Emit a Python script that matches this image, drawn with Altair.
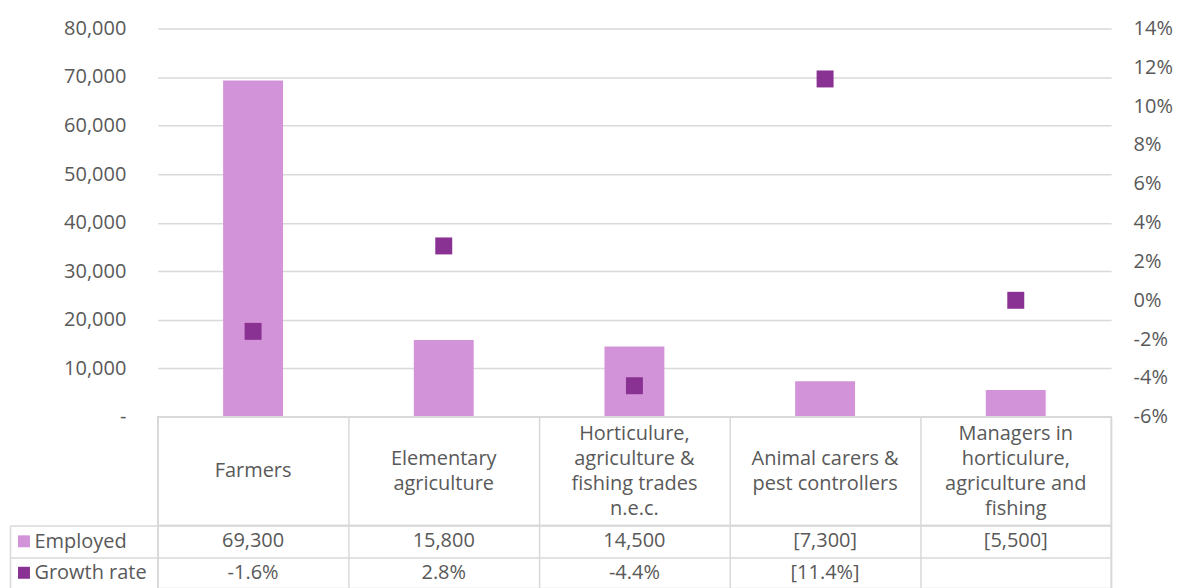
import altair as alt
import pandas as pd

categories = ["Farmers", "Elementary agriculture", "Horticulure, agriculture & fishing trades n.e.c.",
              "Animal carers & pest controllers", "Managers in horticulure, agriculture and fishing"]
header_lines = [["Farmers"], ["Elementary", "agriculture"], ["Horticulure,", "agriculture &", "fishing trades", "n.e.c."],
                ["Animal carers &", "pest controllers"], ["Managers in", "horticulure,", "agriculture and", "fishing"]]
employed = [69300, 15800, 14500, 7300, 5500]
growth = [-1.6, 2.8, -4.4, 11.4, 0.0]
employed_labels = ["69,300", "15,800", "14,500", "[7,300]", "[5,500]"]
growth_labels = ["-1.6%", "2.8%", "-4.4%", "[11.4%]", ""]
row_names = ["Employed", "Growth rate"]
left_ticks = [0, 10000, 20000, 30000, 40000, 50000, 60000, 70000, 80000]
right_ticks = [-6, -4, -2, 0, 2, 4, 6, 8, 10, 12, 14]

BAR = "#D393D9"
SQ = "#8A3293"
GRID = "#D9D9D9"
TXT = "#595959"
FONT = "Open Sans"
FS = 20
LH = 25
W = 955

df = pd.DataFrame({"cat": categories, "employed": employed, "growth": growth})

band = alt.Scale(paddingInner=0, paddingOuter=0)
xenc = alt.X("cat:N", sort=categories, axis=None, scale=band)

bars = alt.Chart(df).mark_bar(color=BAR, size=60).encode(
    x=xenc,
    y=alt.Y("employed:Q", scale=alt.Scale(domain=[0, 80000], nice=False),
            axis=alt.Axis(values=left_ticks, title=None, domain=False, ticks=False,
                          grid=True, gridColor=GRID, gridWidth=1.5, labelPadding=32,
                          labelExpr="datum.value == 0 ? '-\u00a0\u00a0' : format(datum.value, ',')",
                          labelFontSize=FS, labelColor=TXT, labelFont=FONT)),
)
squares = alt.Chart(df).mark_square(color=SQ, size=289, opacity=1).encode(
    x=xenc,
    y=alt.Y("growth:Q", scale=alt.Scale(domain=[-6, 14], nice=False),
            axis=alt.Axis(values=right_ticks, orient="right", title=None, domain=False, ticks=False,
                          grid=False, labelPadding=22, labelExpr="datum.value + '%'",
                          labelFontSize=FS, labelColor=TXT, labelFont=FONT)),
)
top = alt.layer(bars, squares).resolve_scale(y="independent").properties(width=W, height=389)

cellview = alt.ViewConfig(stroke=GRID, strokeWidth=1.5)
xgrid = alt.Axis(title=None, labels=False, ticks=False, domain=False, grid=True,
                 tickBand="extent", gridColor=GRID, gridWidth=1.5)

# Header row of table (one layer per line count so each block is centred in its cell)
hdf = pd.DataFrame({"cat": categories, "text": header_lines,
                    "n": [len(l) for l in header_lines]})
hlayers = []
for n in sorted(set(hdf["n"])):
    hlayers.append(
        alt.Chart(hdf).transform_filter(f"datum.n == {n}").mark_text(
            font=FONT, fontSize=FS, color=TXT, lineHeight=LH, baseline="middle",
            align="center", dy=-(n - 1) * LH / 2).encode(
            x=alt.X("cat:N", sort=categories, scale=band, axis=xgrid),
            text="text",
        )
    )
header = alt.layer(*hlayers).properties(width=W, height=109, view=cellview)

# Data rows of table
rows = []
for c, e, g in zip(categories, employed_labels, growth_labels):
    rows.append({"cat": c, "row": "Employed", "text": e})
    rows.append({"cat": c, "row": "Growth rate", "text": g})
rdf = pd.DataFrame(rows)

yrow = alt.Y("row:N", sort=row_names, scale=band,
             axis=alt.Axis(title=None, domain=False, ticks=True, tickSize=148, tickColor=GRID,
                           tickWidth=1.5, tickBand="extent", grid=True, gridColor=GRID, gridWidth=1.5,
                           labelAlign="left", labelPadding=-24, labelFontSize=FS, labelColor=TXT,
                           labelFont=FONT))
cells = alt.Chart(rdf).mark_text(font=FONT, fontSize=FS, color=TXT, baseline="middle").encode(
    x=alt.X("cat:N", sort=categories, scale=band, axis=xgrid),
    y=yrow,
    text="text",
)
mdf = pd.DataFrame({"row": row_names})
markers = alt.Chart(mdf).mark_square(size=144, opacity=1).encode(
    x=alt.value(-134),
    y=alt.Y("row:N", sort=row_names, scale=band, axis=None),
    color=alt.Color("row:N", scale=alt.Scale(domain=row_names, range=[BAR, SQ]), legend=None),
)
edge = alt.Chart(mdf).mark_text(opacity=0).encode(
    y=alt.Y("row:N", sort=row_names, scale=band,
            axis=alt.Axis(orient="left", offset=148, domain=True, domainColor=GRID, domainWidth=1.5,
                          labels=False, ticks=False, grid=False, title=None)),
    text="row:N",
)
table = alt.layer(cells, markers, edge).resolve_scale(y="independent").properties(
    width=W, height=63, view=cellview)

chart = alt.vconcat(top, header, table, spacing=0, bounds="flush").properties(
    padding={"left": 0, "top": 9, "right": 0, "bottom": 0}
).configure_view(stroke="transparent").configure_concat(spacing=0)

chart.save("out.html", embed_options={"renderer": "svg", "actions": False})
